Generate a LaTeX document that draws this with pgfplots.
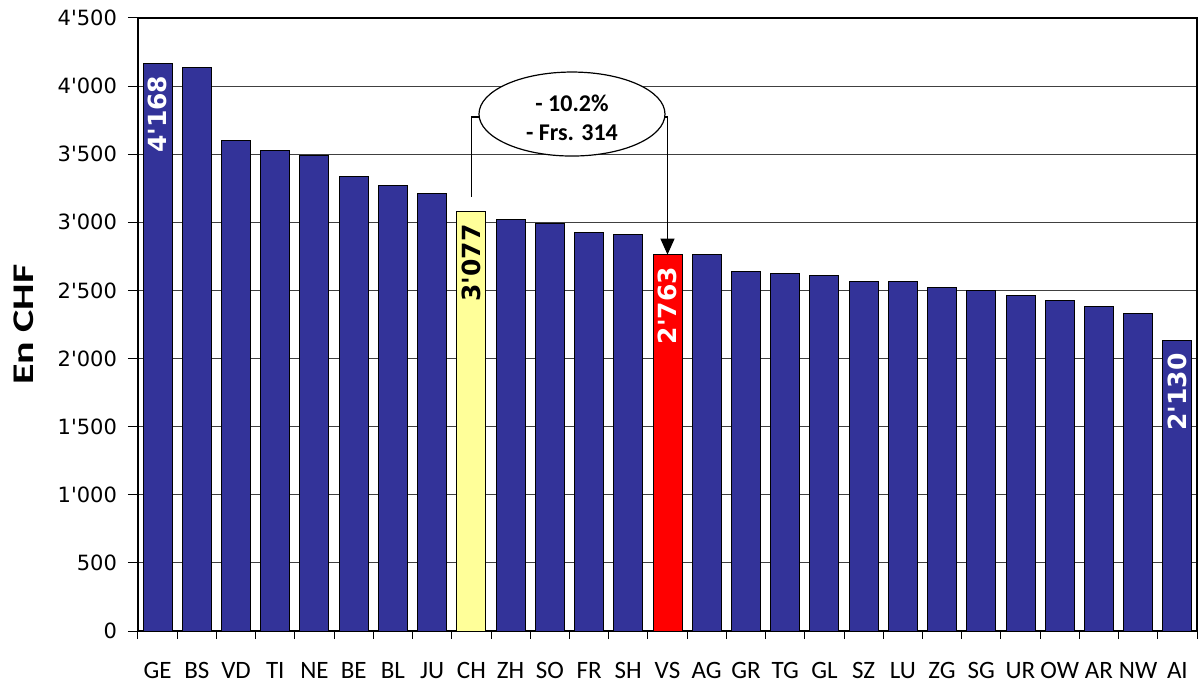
\documentclass[border=0pt]{standalone}
\usepackage{pgfplots}
\pgfplotsset{compat=1.18}
\usepackage{fontspec}
\setmainfont{Carlito}
\newfontfamily\dejavu{DejaVu Sans}[Ligatures=TeXOff]
\newfontfamily\carlito{Carlito}
\usetikzlibrary{arrows.meta}
\definecolor{barblue}{HTML}{333399}
\definecolor{baryellow}{HTML}{FFFF99}
\definecolor{barred}{HTML}{FF0000}
\begin{document}
\begin{tikzpicture}
\begin{axis}[
  scale only axis,
  width=529.5pt, height=306.5pt,
  ybar,
  bar width=14.5pt,
  xmin=-0.5, xmax=26.5,
  ymin=0, ymax=4500,
  xtick={0,...,26},
  xticklabels={GE,BS,VD,TI,NE,BE,BL,JU,CH,ZH,SO,FR,SH,VS,AG,GR,TG,GL,SZ,LU,ZG,SG,UR,OW,AR,NW,AI},
  minor xtick={-0.5,0.5,...,26.5},
  major x tick style={draw=none},
  minor x tick style={black, line width=0.5pt},
  xtick pos=bottom,
  ytick={0,500,...,4500},
  yticklabels={0,500,1'000,1'500,2'000,2'500,3'000,3'500,4'000,4'500},
  ytick pos=left,
  tick align=outside,
  major tick length=5pt,
  minor tick length=4pt,
  ymajorgrids,
  grid style={black!75, line width=0.5pt},
  axis line style={black, line width=0.8pt},
  ytick style={black, line width=0.5pt},
  xticklabel style={font=\carlito\fontsize{12.5}{14}\selectfont, yshift=-7pt},
  yticklabel style={font=\dejavu\fontsize{10.5}{12}\selectfont, xshift=-2pt},
  ylabel={\scalebox{1.4}[1]{En CHF}},
  every axis y label/.style={at={(axis description cs:-0.1081,0.5)}, rotate=90, anchor=center,
    font=\carlito\bfseries\fontsize{15}{17}\selectfont},
  nodes near coords style={font=\dejavu\bfseries\fontsize{12.5}{14}\selectfont, rotate=90, anchor=east, inner xsep=6pt},
]
% plain blue bars
\addplot[fill=barblue, draw=black, line width=0.5pt, bar shift=0pt] coordinates {
(1,4135) (2,3602) (3,3529) (4,3487) (5,3333) (6,3269) (7,3208)
(9,3022) (10,2990) (11,2929) (12,2912)
(14,2763) (15,2640) (16,2628) (17,2609) (18,2569) (19,2569) (20,2525)
(21,2496) (22,2464) (23,2423) (24,2381) (25,2330)
};
% labelled blue bars
\addplot[fill=barblue, draw=black, line width=0.5pt, bar shift=0pt,
  point meta=explicit symbolic, nodes near coords, nodes near coords style={text=white}] coordinates {
(0,4168) [4'168]
(26,2130) [2'130]
};
% CH
\addplot[fill=baryellow, draw=black, line width=0.5pt, bar shift=0pt,
  point meta=explicit symbolic, nodes near coords, nodes near coords style={text=black}] coordinates {
(8,3077) [3'077]
};
% VS
\addplot[fill=barred, draw=black, line width=0.5pt, bar shift=0pt,
  point meta=explicit symbolic, nodes near coords, nodes near coords style={text=white}] coordinates {
(13,2763) [2'763]
};
\draw[black, line width=0.6pt] (axis cs:8,3186) |- (axis cs:8.3,3773);
\draw[black, line width=0.6pt, -{Triangle[length=8pt,width=7pt]}] (axis cs:12.9,3773) -| (axis cs:13,2763);
\draw[black, line width=0.6pt, fill=white] (axis cs:10.565,3795) ellipse [x radius=46.5pt, y radius=21pt];
\node[align=center, font=\carlito\bfseries\fontsize{12}{14.5}\selectfont] at (axis cs:10.565,3770) {- 10.2\%\\- Frs. 314};
\end{axis}
\path (current axis.south west) ++(-69pt,-27.5pt) coordinate (bba);
\path (current axis.north east) ++(1pt,9pt) coordinate (bbb);
\pgfresetboundingbox
\path (bba) rectangle (bbb);
\end{tikzpicture}
\end{document}
